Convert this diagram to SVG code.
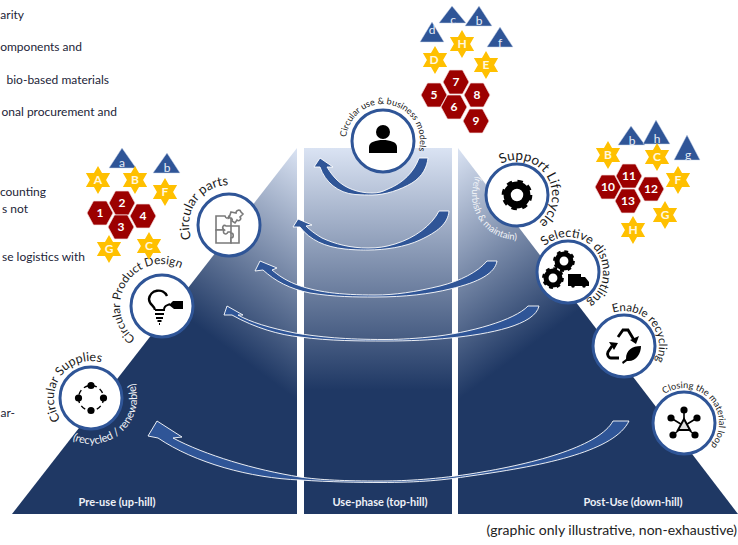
<svg xmlns="http://www.w3.org/2000/svg" width="738" height="545" viewBox="0 0 738 545">
<style>
.t{font-family:"Lato","Liberation Sans",sans-serif}
.note{font-size:12px;fill:#1c2438;text-anchor:end}
.lab{font-size:13px;fill:#1a1a1a}
.wl{fill:#f2f4f8}
.bl{font-size:11px;font-weight:700;fill:#eef1f7;text-anchor:middle}
.node{fill:#fff;stroke:#2f5597;stroke-width:3}
.hx{fill:#9c0000;stroke:#f3dede;stroke-width:.7}
.st{fill:#ffc000}
.tr{fill:#2f5597;stroke:#c9d4ea;stroke-width:.5}
.bt{font-size:12px;font-weight:700;text-anchor:middle}
.tl{font-weight:400;fill:#e8eef8}
.sl{fill:#fff8e0}
.hl{fill:#fff}
.arrow{fill:#2f5597;stroke:#fff;stroke-width:.9;stroke-linejoin:miter}
.ic{fill:none;stroke:#000}
.pz{fill:#fff;stroke:#7a7a7a;stroke-width:1.6}
</style>
<defs>
<linearGradient id="gL" gradientUnits="userSpaceOnUse" x1="250" y1="365" x2="371" y2="203"><stop offset="0" stop-color="#1f3864"/><stop offset="1" stop-color="#dae3f3"/></linearGradient>
<linearGradient id="gM" gradientUnits="userSpaceOnUse" x1="378" y1="148" x2="378" y2="390"><stop offset="0" stop-color="#dae3f3"/><stop offset="1" stop-color="#1f3864"/></linearGradient>
<linearGradient id="gR" gradientUnits="userSpaceOnUse" x1="505" y1="365" x2="384" y2="203"><stop offset="0" stop-color="#1f3864"/><stop offset="1" stop-color="#dae3f3"/></linearGradient>
<polygon id="star" points="0,-14 4.04,-7 12.12,-7 8.08,0 12.12,7 4.04,7 0,14 -4.04,7 -12.12,7 -8.08,0 -12.12,-7 -4.04,-7"/>
<polygon id="hex" points="-13,0 -6.5,-12 6.5,-12 13,0 6.5,12 -6.5,12"/>
<path id="cw35" d="M0,-35 A35 35 0 1 1 -0.01,-35"/>
<path id="cw37" d="M0,-37 A37 37 0 1 1 -0.01,-37"/>
<path id="cw40" d="M0,-40 A40 40 0 1 1 -0.01,-40"/>
<path id="cw42" d="M0,-42 A42 42 0 1 1 -0.01,-42"/>
<path id="ccw45" d="M0,45 A45 45 0 1 0 -0.01,45"/>
<path id="ccw46" d="M0,46 A46 46 0 1 0 -0.01,46"/>
<g id="gear"><circle r="8.2" fill="none" stroke="#000" stroke-width="6"/><circle r="11.2" fill="none" stroke="#000" stroke-width="3.2" stroke-dasharray="4.4 4.4"/></g>
</defs>

<g id="panels">
<polygon points="12,514 297,514 297,148" fill="url(#gL)"/>
<rect x="304" y="148" width="148" height="366" fill="url(#gM)"/>
<polygon points="458,514 738,514 458,148" fill="url(#gR)"/>
</g>

<g id="notes" class="t">
<text class="note" x="24" y="19">arity</text>
<text class="note" x="82" y="51">omponents and</text>
<text class="note" x="109" y="84">bio-based materials</text>
<text class="note" x="117" y="116">onal procurement and</text>
<text class="note" x="46" y="196">counting</text>
<text class="note" x="28" y="213">s not</text>
<text class="note" x="85" y="261">se logistics with</text>
<text class="note" x="15" y="417">ar-</text>
</g>

<g id="connectors">
<path class="arrow" d="M419,158 C414,172 403,183 388,189 C382,192 378,193 372,193 C358,193 345,188 337,180 C333,176 330,172 327,167 L333,167 L320,158 L314,167 L320,167 C325,182 338,193 355,194.500 C362,195 368,195 372,195 C385,195 400,190 412,183 C423,176 427,167 428,158 Z"/>
<path class="arrow" d="M439,211 C432,225 415,238 395,244 C385,247 378,248 368,248 C350,248 335,244 322,238 C315,234 310,230 306,226 L312,225 L298,219 L293,227 L300,227 C310,240 325,247 345,249 C355,250 362,250 368,250 C385,250 405,247 420,240 C437,232 448,224 449,211 Z"/>
<path class="arrow" d="M487,261 C478,272 460,281 440,286 C415,292 395,295 375,295 C340,295 315,292 295,284 C285,280 278,275 272,270 L277,268 L260,261 L255,271 L263,270 C275,281 290,289 310,293 C335,297 355,297 375,297 C405,297 430,294 450,289 C480,282 495,273 497,261 Z"/>
<path class="arrow" d="M528,306 C515,320 470,333 430,337 C410,339 395,339.500 385,339.500 C345,339.500 320,337 295,333 C270,328 250,322 238,315 L243,315 L227,306 L224,315 L232,315 C255,328 280,335 300,337 C330,341 360,341 385,341 C410,341 430,340 450,338 C490,334 535,325 539,306 Z"/>
<path class="arrow" d="M613,421 C600,445 540,463 470,474 C430,480 400,481 380,481 C345,481 320,480 300,477 C255,470 205,455 173,438 L182,437 L157,421 L148,436 L158,438 C195,463 250,478 300,480 C330,482 360,482.500 380,482.500 C420,482.500 445,480 470,476 C550,465 615,450 629,421 Z"/>
</g>

<g id="node-supplies">
<circle class="node" cx="91" cy="398" r="31"/>
<circle cx="91" cy="398" r="12.500" fill="none" stroke="#000" stroke-width="1.400" stroke-dasharray="5 3.500"/>
<circle cx="91" cy="385.500" r="3.600"/><circle cx="91" cy="410.500" r="3.600"/><circle cx="78.500" cy="398" r="3.600"/><circle cx="103.500" cy="398" r="3.600"/>
<text class="t lab" style="font-size:12.500px" transform="translate(91,398) rotate(-125)"><textPath href="#cw37">Circular Supplies</textPath></text>
<text class="t wl" font-size="11" transform="translate(91,398) rotate(24)"><textPath href="#ccw46">(recycled / renewable)</textPath></text>
</g>

<g id="node-design">
<circle class="node" cx="162" cy="306" r="31"/>
<path class="ic" stroke-width="2.400" d="M155,310 C155,306 149,305 149,299 A9.500 9.500 0 0 1 167,296"/>
<path class="ic" stroke-width="2" d="M155,310 H164 C164,306 166,306 170,304 M155,314 H164 M156,318 H163 M157.500,321 H161.500 M159,324 H160"/>
<polygon points="173,301 183,301 183,309 174,309 169,305"/>
<text class="t lab" style="font-size:11.800px" transform="translate(162,306) rotate(-141)"><textPath href="#cw42">Circular Product Design</textPath></text>
</g>

<g id="node-parts">
<circle class="node" cx="229" cy="225" r="31"/>
<path class="pz" d="M216,216 H225 C226,219 228,219 229,216 H231 V226 H226 C224,224 221,227 224,230 H216 Z"/>
<path class="pz" d="M216,230 H224 C222,233 226,236 228,232 H231 V243 H216 Z"/>
<path class="pz" d="M231,226 H239 V243 H231 V238 C234,238 234,233 231,233 Z"/>
<path class="pz" d="M231,212 L236,213 C236,210 240,209 241,212 L243,214 L240,217 C242,219 239,222 237,220 L235,223 L232,221 C233,219 231,217 229,218 Z"/>
<text class="t lab" transform="translate(229,225) rotate(-110)"><textPath href="#cw40">Circular parts</textPath></text>
</g>

<g id="node-use">
<circle class="node" cx="383" cy="141" r="31"/>
<circle cx="383" cy="132" r="7"/>
<path d="M369,153 V147 C369,142 376,140 383,140 C390,140 397,142 397,147 V153 Z"/>
<text class="t" font-size="9" fill="#1a1a1a" transform="translate(383,141) rotate(-84)"><textPath href="#cw37">Circular use &amp; business models</textPath></text>
</g>

<g id="node-support">
<circle class="node" cx="517" cy="195" r="31"/>
<use href="#gear" x="0" y="0" transform="translate(517,195) scale(1.2)"/>
<text class="t lab" style="font-size:13.500px" transform="translate(517,195) rotate(-27)"><textPath href="#cw35">Support Lifecycle</textPath></text>
<text class="t wl" font-size="9.500" transform="translate(517,195) rotate(115)"><textPath href="#ccw45">(refurbish &amp; maintain)</textPath></text>
</g>

<g id="node-dismantling">
<circle class="node" cx="568" cy="272" r="31"/>
<use href="#gear" x="0" y="0" transform="translate(564,261) scale(.85)"/>
<use href="#gear" x="0" y="0" transform="translate(553,278) scale(.85)"/>
<path d="M568,274 H581 V277 H585 L589,282 V286 H568 Z"/>
<circle cx="573" cy="286" r="1.800"/><circle cx="584" cy="286" r="1.800"/>
<text class="t lab" style="font-size:12.500px" transform="translate(568,272) rotate(-42)"><textPath href="#cw35">Selective dismantling</textPath></text>
</g>

<g id="node-recycling">
<circle class="node" cx="624" cy="346" r="31"/>
<path class="ic" stroke-width="2.800" d="M618,337 L623,330 H628 L634,340 M619,358 H611 C608,358 607,354 608,352 L612,346"/>
<path d="M630,340 L639,336 L636,344 Z M609,342 L618,343 L614,350 Z"/>
<path d="M626,359 C626,350 632,346 641,346 C641,354 636,362 627,361 L623,364 L622,362 Z"/>
<text class="t" font-size="11.500" fill="#1a1a1a" transform="translate(624,346) rotate(-18)"><textPath href="#cw35">Enable recycling</textPath></text>
</g>

<g id="node-closing">
<circle class="node" cx="684" cy="423" r="31"/>
<path class="ic" stroke-width="1.600" d="M684,410 V424 M671,418 L684,426 M697,418 L684,426 M673,435 L684,426 M695,435 L684,426"/>
<circle cx="684" cy="410" r="3.600"/><circle cx="671" cy="418" r="3.600"/><circle cx="697" cy="418" r="3.600"/><circle cx="673" cy="435" r="3.600"/><circle cx="695" cy="435" r="3.600"/>
<polygon points="684,419 690,430 678,430" fill="#ddd" stroke="#000" stroke-width="2"/>
<text class="t" font-size="9.200" fill="#1a1a1a" transform="translate(684,423) rotate(-34)"><textPath href="#cw35">Closing the material loop</textPath></text>
</g>

<g id="badges-left" class="t">
<g id="tri-a1"><polygon class="tr" points="122,148 136,168 109,168"/><text class="bt tl" x="122" y="167">a</text></g>
<g id="tri-b1"><polygon class="tr" points="167,153 180,173 153,173"/><text class="bt tl" x="167" y="172">b</text></g>
<g id="star-A1"><use class="st" href="#star" x="98" y="180"/><text class="bt sl" x="98" y="184">A</text></g>
<g id="star-B1"><use class="st" href="#star" x="135" y="180"/><text class="bt sl" x="135" y="184">B</text></g>
<g id="star-F1"><use class="st" href="#star" x="165" y="192"/><text class="bt sl" x="165" y="196">F</text></g>
<g id="star-G1"><use class="st" href="#star" x="109" y="249"/><text class="bt sl" x="109" y="253">G</text></g>
<g id="star-C1"><use class="st" href="#star" x="149" y="246"/><text class="bt sl" x="149" y="250">C</text></g>
<g id="hex-1"><use class="hx" href="#hex" x="100" y="213"/><text class="bt hl" x="100" y="217">1</text></g>
<g id="hex-2"><use class="hx" href="#hex" x="122" y="203"/><text class="bt hl" x="122" y="207">2</text></g>
<g id="hex-4"><use class="hx" href="#hex" x="143" y="216"/><text class="bt hl" x="143" y="220">4</text></g>
<g id="hex-3"><use class="hx" href="#hex" x="121" y="227"/><text class="bt hl" x="121" y="231">3</text></g>
</g>

<g id="badges-top" class="t">
<g id="tri-c2"><polygon class="tr" points="452,6 466,23 439,23"/><text class="bt tl" x="453" y="24">c</text></g>
<g id="tri-b2"><polygon class="tr" points="479,6 492,26 465,26"/><text class="bt tl" x="479" y="25">b</text></g>
<g id="tri-d2"><polygon class="tr" points="432,22 444,42 420,42"/><text class="bt tl" x="432" y="34">d</text></g>
<g id="tri-f2"><polygon class="tr" points="500,27 513,47 487,47"/><text class="bt tl" x="500" y="47">f</text></g>
<g id="star-H2"><use class="st" href="#star" x="462" y="44"/><text class="bt sl" x="462" y="48">H</text></g>
<g id="star-D2"><use class="st" href="#star" x="435" y="60"/><text class="bt sl" x="434" y="64">D</text></g>
<g id="star-E2"><use class="st" href="#star" x="486" y="65"/><text class="bt sl" x="486" y="69">E</text></g>
<g id="hex-5"><use class="hx" href="#hex" x="434" y="95"/><text class="bt hl" x="434" y="99">5</text></g>
<g id="hex-7"><use class="hx" href="#hex" x="456" y="82"/><text class="bt hl" x="456" y="86">7</text></g>
<g id="hex-8"><use class="hx" href="#hex" x="477" y="95"/><text class="bt hl" x="477" y="99">8</text></g>
<g id="hex-6"><use class="hx" href="#hex" x="454" y="107"/><text class="bt hl" x="454" y="111">6</text></g>
<g id="hex-9"><use class="hx" href="#hex" x="476" y="121"/><text class="bt hl" x="476" y="125">9</text></g>
</g>

<g id="badges-right" class="t">
<g id="tri-b3"><polygon class="tr" points="631,126 645,145 618,145"/><text class="bt tl" x="632" y="145">b</text></g>
<g id="tri-h3"><polygon class="tr" points="656,120 670,144 643,144"/><text class="bt tl" x="657" y="143">h</text></g>
<g id="tri-g3"><polygon class="tr" points="687,135 700,160 674,160"/><text class="bt tl" x="688" y="159">g</text></g>
<g id="star-B3"><use class="st" href="#star" x="608" y="155"/><text class="bt sl" x="608" y="159">B</text></g>
<g id="star-C3"><use class="st" href="#star" x="657" y="157"/><text class="bt sl" x="657" y="161">C</text></g>
<g id="star-F3"><use class="st" href="#star" x="678" y="180"/><text class="bt sl" x="678" y="184">F</text></g>
<g id="star-G3"><use class="st" href="#star" x="665" y="215"/><text class="bt sl" x="665" y="219">G</text></g>
<g id="star-H3"><use class="st" href="#star" x="633" y="230"/><text class="bt sl" x="633" y="234">H</text></g>
<g id="hex-10"><use class="hx" href="#hex" x="608" y="187"/><text class="bt hl" x="608" y="191">10</text></g>
<g id="hex-11"><use class="hx" href="#hex" x="629" y="176"/><text class="bt hl" x="629" y="180">11</text></g>
<g id="hex-12"><use class="hx" href="#hex" x="651" y="189"/><text class="bt hl" x="651" y="193">12</text></g>
<g id="hex-13"><use class="hx" href="#hex" x="628" y="201"/><text class="bt hl" x="628" y="205">13</text></g>
</g>

<g id="phase-labels" class="t">
<text class="bl" x="117" y="506">Pre-use (up-hill)</text>
<text class="bl" x="380" y="506">Use-phase (top-hill)</text>
<text class="bl" x="633" y="506">Post-Use (down-hill)</text>
</g>
<text class="t" x="737" y="535" font-size="14" fill="#222" text-anchor="end">(graphic only illustrative, non-exhaustive)</text>
</svg>
